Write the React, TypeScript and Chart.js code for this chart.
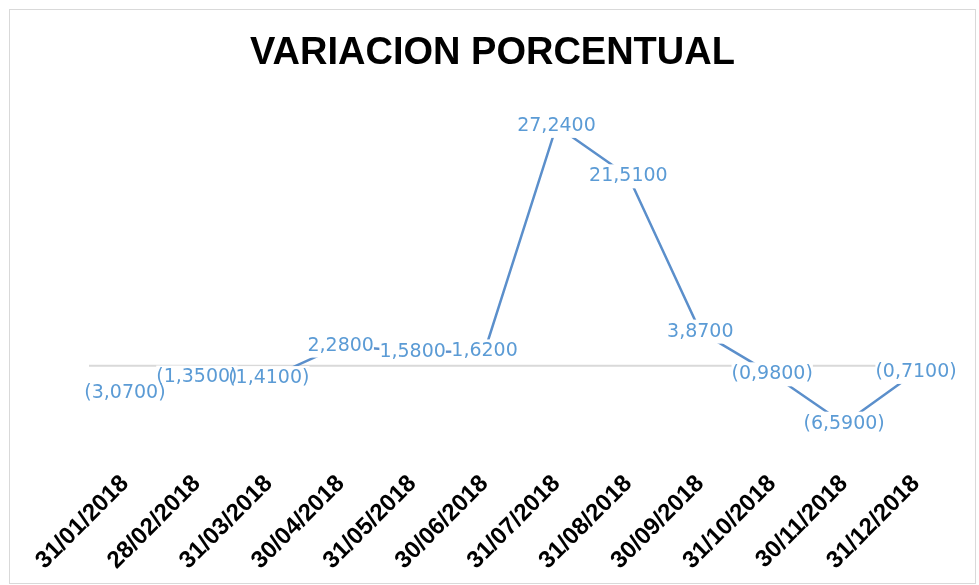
import React, { useEffect, useRef } from "react";
import { Chart, registerables } from "chart.js";

Chart.register(...registerables);

const categories: string[] = [
  "31/01/2018", "28/02/2018", "31/03/2018", "30/04/2018", "31/05/2018", "30/06/2018",
  "31/07/2018", "31/08/2018", "30/09/2018", "31/10/2018", "30/11/2018", "31/12/2018",
];
const values: number[] = [-3.07, -1.35, -1.41, 2.28, 1.58, 1.62, 27.24, 21.51, 3.87, -0.98, -6.59, -0.71];
const yMin = -10;
const yMax = 30;
const titleText = "VARIACION PORCENTUAL";

const LINE_COLOR = "#5B8FCB";
const LABEL_COLOR = "#5B9BD5";

function fmt(v: number): string {
  const s = Math.abs(v).toFixed(4).replace(".", ",");
  return v < 0 ? "(" + s + ")" : s;
}

const zeroLinePlugin = {
  id: "zeroLine",
  beforeDatasetsDraw(chart: any) {
    const { ctx, chartArea, scales } = chart;
    const y0 = scales.y.getPixelForValue(0);
    ctx.save();
    ctx.strokeStyle = "#d9d9d9";
    ctx.lineWidth = 2;
    ctx.beginPath();
    ctx.moveTo(chartArea.left, y0);
    ctx.lineTo(chartArea.right, y0);
    ctx.stroke();
    ctx.restore();
  },
};

const labelPlugin = {
  id: "pointLabels",
  afterDatasetsDraw(chart: any) {
    const { ctx } = chart;
    const meta = chart.getDatasetMeta(0);
    const data = chart.data.datasets[0].data as number[];
    ctx.save();
    ctx.font = "19px 'DejaVu Sans'";
    ctx.textAlign = "center";
    ctx.textBaseline = "middle";
    meta.data.forEach((pt: any, i: number) => {
      const t = fmt(data[i]);
      const w = ctx.measureText(t).width;
      ctx.fillStyle = "#ffffff";
      ctx.fillRect(pt.x - w / 2, pt.y - 12, w, 24);
    });
    meta.data.forEach((pt: any, i: number) => {
      const t = fmt(data[i]);
      ctx.fillStyle = LABEL_COLOR;
      ctx.fillText(t, pt.x, pt.y);
    });
    ctx.restore();
  },
};

export default function App() {
  const ref = useRef<HTMLCanvasElement | null>(null);
  useEffect(() => {
    if (!ref.current) return;
    const chart = new Chart(ref.current, {
      type: "line",
      data: {
        labels: categories,
        datasets: [
          {
            data: values,
            borderColor: LINE_COLOR,
            borderWidth: 2.5,
            pointRadius: 0,
            tension: 0,
            fill: false,
          },
        ],
      },
      options: {
        animation: false,
        responsive: true,
        maintainAspectRatio: false,
        layout: { padding: { left: 0, right: 0, top: 0, bottom: 0 } },
        plugins: {
          legend: { display: false },
          tooltip: { enabled: false },
          title: {
            display: true,
            text: titleText,
            color: "#000000",
            font: { family: "'Liberation Sans', Arial, sans-serif", size: 38, weight: "bold" },
            padding: { top: 21, bottom: 25 },
          },
        },
        scales: {
          x: {
            offset: true,
            grid: { display: false },
            border: { display: false },
            afterFit(scale: any) {
              scale.paddingLeft = 79;
              scale.paddingRight = 23;
            },
            ticks: {
              color: "#000000",
              font: { family: "'Liberation Sans', Arial, sans-serif", size: 24, weight: "bold" },
              minRotation: 45,
              maxRotation: 45,
              autoSkip: false,
              padding: 8,
            },
          },
          y: {
            display: false,
            min: yMin,
            max: yMax,
          },
        },
      },
      plugins: [zeroLinePlugin, labelPlugin],
    });
    return () => chart.destroy();
  }, []);
  return (
    <div
      style={{
        position: "fixed",
        left: 9,
        top: 9,
        width: 967,
        height: 575,
        border: "1px solid #d9d9d9",
        boxSizing: "border-box",
        background: "#ffffff",
      }}
    >
      <canvas ref={ref} />
    </div>
  );
}
